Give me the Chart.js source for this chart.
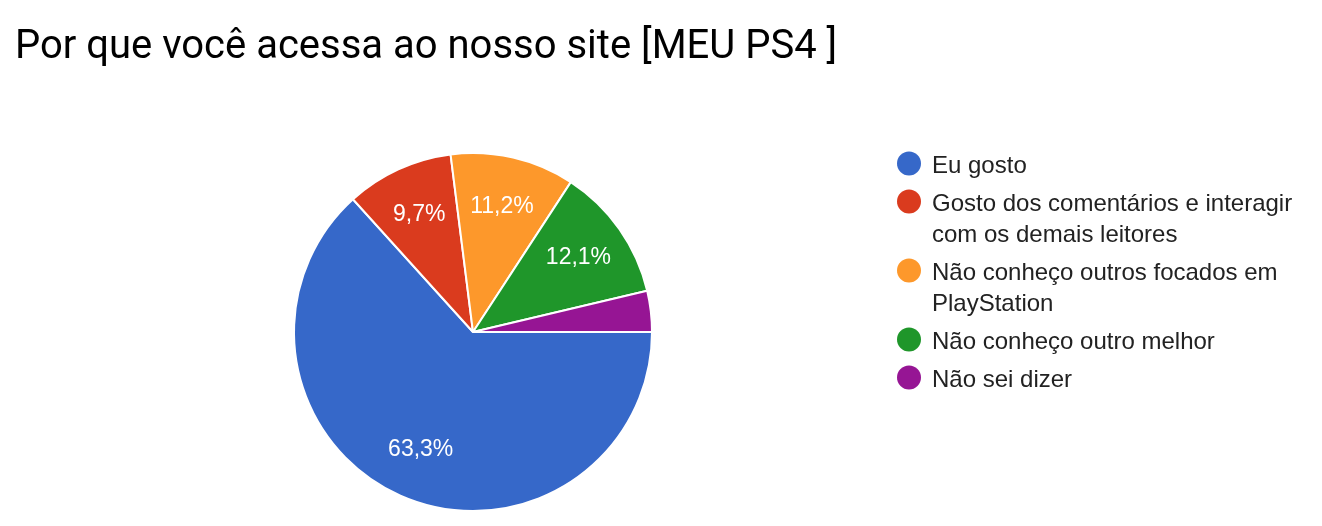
<!DOCTYPE html>
<html>
<head>
<meta charset="utf-8">
<script src="https://cdn.jsdelivr.net/npm/chart.js@4/dist/chart.umd.min.js"></script>
<style>
  html, body { margin: 0; padding: 0; background: #fff; }
  #wrap { width: 1322px; height: 526px; }
</style>
</head>
<body>
<div id="wrap"><canvas id="pie"></canvas></div>
<script>
var title = "Por que você acessa ao nosso site [MEU PS4 ]";
var categories = [
  "Eu gosto",
  "Gosto dos comentários e interagir com os demais leitores",
  "Não conheço outros focados em PlayStation",
  "Não conheço outro melhor",
  "Não sei dizer"
];
var percents = [63.3, 9.7, 11.2, 12.1, 3.7];
var colors = ["#3668c9", "#da3b1e", "#fd982b", "#1f962a", "#961594"];

var sliceFont = "23px 'Liberation Sans', Arial, sans-serif";
var legendFont = "24px 'Liberation Sans', Arial, sans-serif";

// slice labels, legend and title drawn by hand (google charts look)
var extras = {
  id: "extras",
  afterDatasetsDraw: function(chart) {
    var ctx = chart.ctx;
    var arcs = chart.getDatasetMeta(0).data;
    ctx.save();
    ctx.fillStyle = "#fff";
    ctx.font = sliceFont;
    ctx.textAlign = "center";
    ctx.textBaseline = "middle";
    arcs.forEach(function(arc, i) {
      var v = percents[i];
      if (v < 5) return;
      var p = arc.getProps(["x", "y", "startAngle", "endAngle", "outerRadius"], true);
      var mid = (p.startAngle + p.endAngle) / 2;
      var r = p.outerRadius * 0.72;
      ctx.fillText(v.toFixed(1).replace(".", ",") + "%", p.x + Math.cos(mid) * r, p.y + Math.sin(mid) * r);
    });
    ctx.restore();
  },
  afterDraw: function(chart) {
    var ctx = chart.ctx;
    ctx.save();
    ctx.fillStyle = "#000";
    ctx.font = "40px Roboto, sans-serif";
    ctx.textAlign = "left";
    ctx.textBaseline = "alphabetic";
    ctx.fillText(title, 15, 58);

    ctx.font = legendFont;
    var x = 932, y = 173, maxW = 372;
    categories.forEach(function(txt, i) {
      var words = txt.split(" ");
      var lines = [], cur = "";
      words.forEach(function(w) {
        var t = cur ? cur + " " + w : w;
        if (ctx.measureText(t).width > maxW && cur) { lines.push(cur); cur = w; }
        else cur = t;
      });
      lines.push(cur);
      ctx.beginPath();
      ctx.fillStyle = colors[i];
      ctx.arc(909, y - 9.5, 12, 0, Math.PI * 2);
      ctx.fill();
      ctx.fillStyle = "#222";
      lines.forEach(function(l, j) {
        ctx.fillText(l, x, y + j * 31);
      });
      y += (lines.length - 1) * 31 + 38;
    });
    ctx.restore();
  }
};

var chart = new Chart(document.getElementById("pie").getContext("2d"), {
  type: "pie",
  data: {
    labels: categories,
    datasets: [
      {
        data: percents,
        backgroundColor: colors,
        borderColor: "#fff",
        borderWidth: 2
      }
    ]
  },
  options: {
    responsive: true,
    maintainAspectRatio: false,
    animation: false,
    rotation: 90,
    layout: { padding: { left: 293, right: 669, top: 152, bottom: 14 } },
    plugins: {
      legend: { display: false },
      tooltip: { enabled: false }
    }
  },
  plugins: [extras]
});
</script>
</body>
</html>
